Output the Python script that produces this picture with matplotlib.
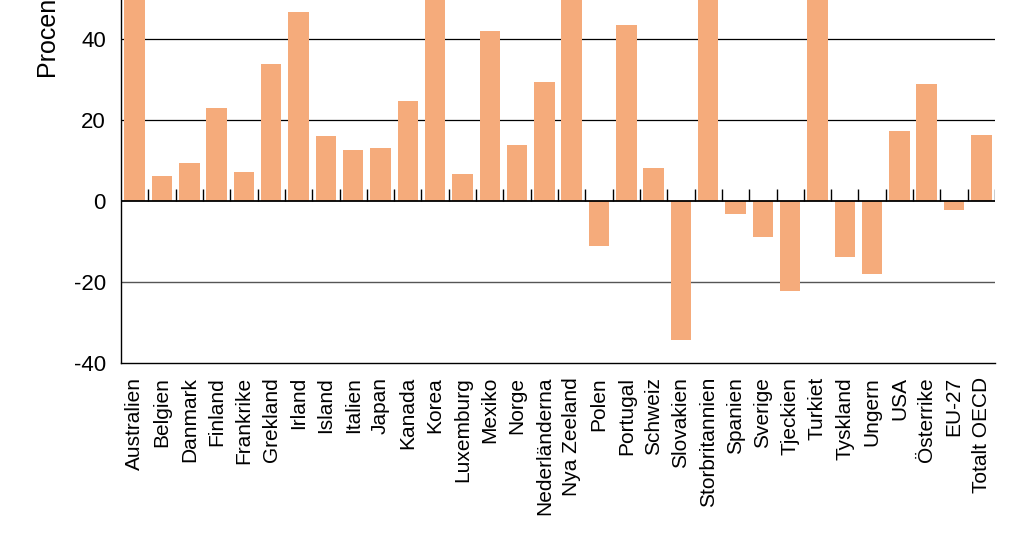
import matplotlib.pyplot as plt
import numpy as np

plt.rcParams['font.family'] = ['Liberation Sans', 'DejaVu Sans']

# lander och procentuell forandring (staplar over ~50 ar avklippta i bilden)
countries = ['Australien', 'Belgien', 'Danmark', 'Finland', 'Frankrike', 'Grekland',
             'Irland', 'Island', 'Italien', 'Japan', 'Kanada', 'Korea', 'Luxemburg',
             'Mexiko', 'Norge', 'Nederländerna', 'Nya Zeeland', 'Polen', 'Portugal',
             'Schweiz', 'Slovakien', 'Storbritannien', 'Spanien', 'Sverige', 'Tjeckien',
             'Turkiet', 'Tyskland', 'Ungern', 'USA', 'Österrike', 'EU-27', 'Totalt OECD']
values = [60.0, 6.2, 9.4, 23.0, 7.2, 33.8,
          46.7, 16.0, 12.6, 13.1, 24.7, 70.0, 6.7,
          42.0, 13.8, 29.4, 55.0, -11.1, 43.5,
          8.1, -34.3, 65.0, -3.2, -8.9, -22.2,
          80.0, -13.8, -18.0, 17.3, 28.9, -2.2, 16.3]
yticks = [-40, -20, 0, 20, 40]

fig = plt.figure(figsize=(10.24, 5.34), dpi=100)
ax = fig.add_axes([0.1182, 0.3202, 0.8535, 0.6798])

x = np.arange(len(countries))
ax.bar(x, values, width=0.75, color='#F5AB7B', zorder=2)

# stodlinjer
for y in [40, 20]:
    ax.axhline(y, color='black', lw=0.9, zorder=1)
ax.axhline(-20, color='#555555', lw=1.0, zorder=1)
ax.axhline(0, color='black', lw=1.3, zorder=3)

# sma streck mellan staplarna vid nollan
ax.vlines(x + 0.5, 0, 3, color='black', lw=1.0, zorder=3)

ax.set_xlim(-0.5, len(countries) - 0.5)
ax.set_ylim(-40, 49.6)
ax.set_yticks(yticks)
ax.set_yticklabels([str(v) for v in yticks], fontsize=16)
ax.set_xticks(x)
ax.set_xticklabels(countries, rotation=90, fontsize=15)
ax.tick_params(axis='x', length=0, pad=10)
ax.tick_params(axis='y', length=0, pad=11)

ax.spines['top'].set_visible(False)
ax.spines['right'].set_visible(False)
ax.spines['left'].set_linewidth(1.0)
ax.spines['bottom'].set_linewidth(1.0)

ax.text(-0.085, 0.91, 'Procent', transform=ax.transAxes, rotation=90,
        ha='center', va='center', fontsize=18)

fig.savefig('out.png', dpi=100)
